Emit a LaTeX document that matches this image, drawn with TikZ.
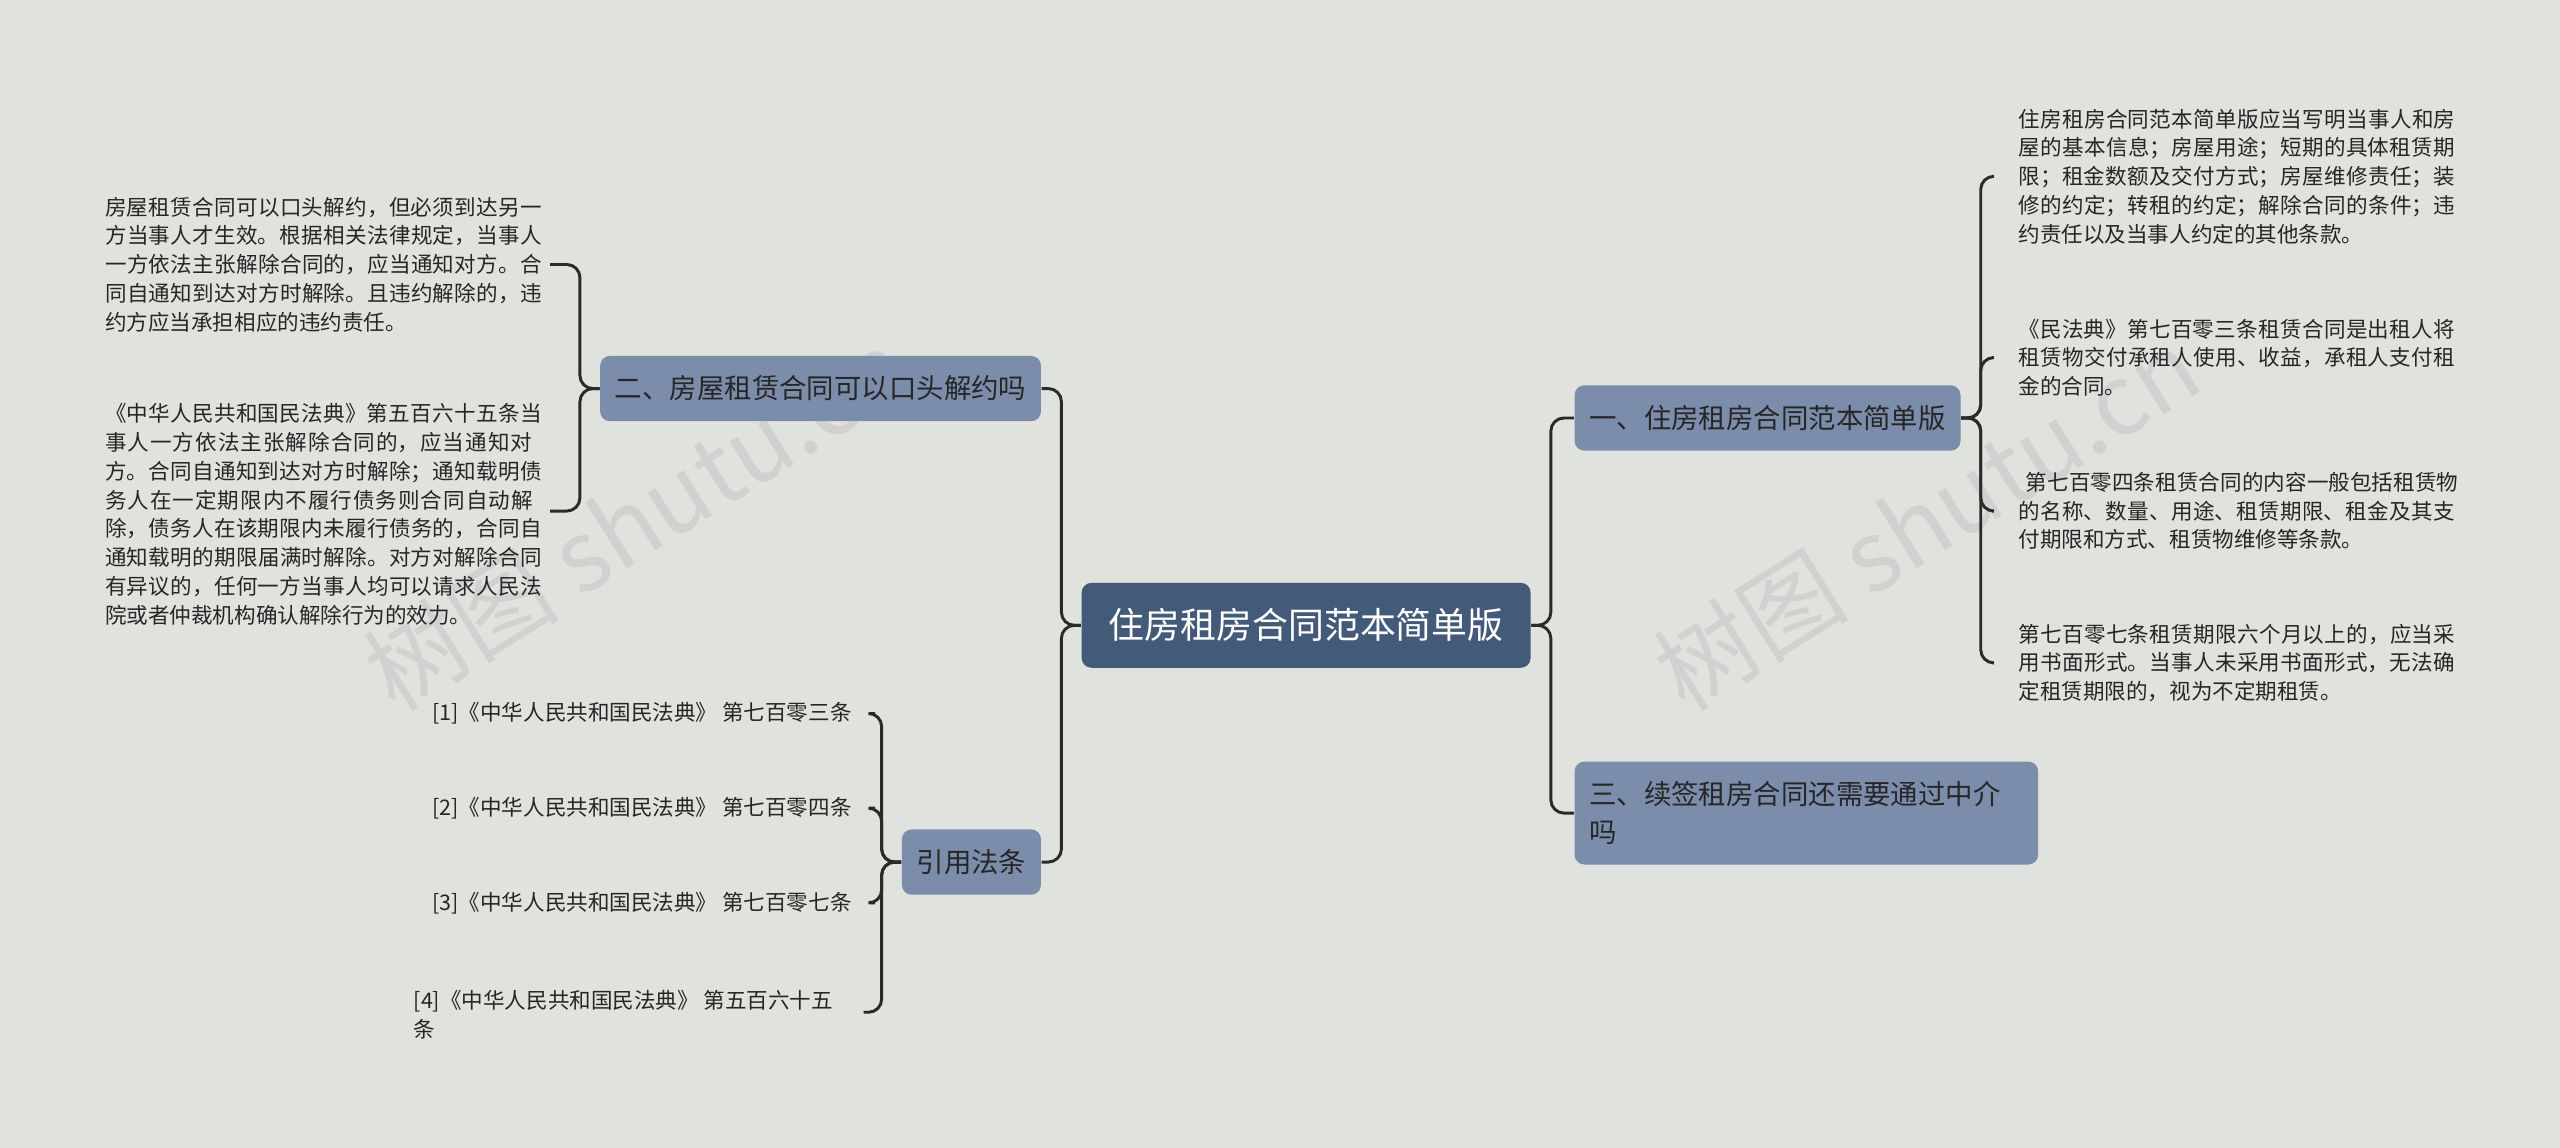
\documentclass[tikz,border=0pt]{standalone}
\usepackage{fontspec}
\setmainfont{Noto Sans CJK SC}
\XeTeXlinebreaklocale "zh"
\XeTeXlinebreakskip=0pt plus 1pt
\usetikzlibrary{positioning}
\definecolor{bgc}{HTML}{E0E2DD}
\definecolor{rootc}{HTML}{435A78}
\definecolor{boxc}{HTML}{7B8DAB}
\definecolor{linec}{HTML}{2A2A2A}
\tikzset{
  rootbox/.style={fill=rootc,rounded corners=3pt,text=white,font=\fontsize{11}{13}\selectfont,minimum width=137.5pt,minimum height=26pt,inner sep=0pt},
  topicbox/.style={fill=boxc,rounded corners=3pt,text=black!85,font=\fontsize{8.4}{11.5}\selectfont,minimum height=20pt,inner xsep=4.5pt,inner ysep=4pt,align=left},
  leaf/.style={font=\fontsize{6.6}{8.8}\selectfont,text=black!85,inner sep=0pt,align=left,text width=135pt},
  cite/.style={font=\fontsize{6.6}{8.8}\selectfont,text=black!85,inner sep=0pt,align=left},
  link/.style={draw=linec,line width=0.9pt,rounded corners=4pt},
  wmark/.style={text=black!18,font=\fontsize{30}{30}\selectfont,rotate=32}
}
\begin{document}
\begin{tikzpicture}[x=0.5pt,y=-0.5pt]
\fill[bgc] (0,0) rectangle (1568,703);
\useasboundingbox (0,0) rectangle (1568,703);
% watermarks
\node[wmark] (wm1) at (390,318) {树图 shutu.cn};
\node[wmark] (wm2) at (1180,318) {树图 shutu.cn};
% root and topics
\node[rootbox] (root) at (800,383) {住房租房合同范本简单版};
\node[topicbox,anchor=west] (t1) at (964,256) {一、住房租房合同范本简单版};
\node[topicbox,anchor=west,text width=133pt,minimum height=31.5pt] (t3) at (964,498) {三、续签租房合同还需要通过中介\\吗};
\node[topicbox,anchor=east] (t2) at (638,238) {二、房屋租赁合同可以口头解约吗};
\node[topicbox,anchor=east] (t4) at (638,528) {引用法条};
\draw[link] (root.east) -- ++(12,0) |- (t1.west);
\draw[link] (root.east) -- ++(12,0) |- (t3.west);
\draw[link] (root.west) -- ++(-12,0) |- (t2.east);
\draw[link] (root.west) -- ++(-12,0) |- (t4.east);
% leaves of topic one
\node[leaf,anchor=west] (a1) at (1236,108) {住房租房合同范本简单版应当写明当事人和房屋的基本信息；房屋用途；短期的具体租赁期限；租金数额及交付方式；房屋维修责任；装修的约定；转租的约定；解除合同的条件；违约责任以及当事人约定的其他条款。};
\node[leaf,anchor=west] (a2) at (1236,219) {《民法典》第七百零三条租赁合同是出租人将租赁物交付承租人使用、收益，承租人支付租金的合同。};
\node[leaf,anchor=west] (a3) at (1236,313) {\ 第七百零四条租赁合同的内容一般包括租赁物的名称、数量、用途、租赁期限、租金及其支付期限和方式、租赁物维修等条款。};
\node[leaf,anchor=west] (a4) at (1236,406) {第七百零七条租赁期限六个月以上的，应当采用书面形式。当事人未采用书面形式，无法确定租赁期限的，视为不定期租赁。};
\foreach \n in {a1,a2,a3,a4}
  \draw[link] (t1.east) -- ++(12,0) |- ([xshift=-8]\n.west);
% leaves of topic two
\node[leaf,anchor=west] (b1) at (64,162) {房屋租赁合同可以口头解约，但必须到达另一方当事人才生效。根据相关法律规定，当事人一方依法主张解除合同的，应当通知对方。合同自通知到达对方时解除。且违约解除的，违约方应当承担相应的违约责任。};
\node[leaf,anchor=west] (b2) at (64,315) {《中华人民共和国民法典》第五百六十五条当事人一方依法主张解除合同的，应当通知对方。合同自通知到达对方时解除；通知载明债务人在一定期限内不履行债务则合同自动解除，债务人在该期限内未履行债务的，合同自通知载明的期限届满时解除。对方对解除合同有异议的，任何一方当事人均可以请求人民法院或者仲裁机构确认解除行为的效力。};
\coordinate (b1e) at (337,162);
\coordinate (b2e) at (337,313);
\foreach \n in {b1e,b2e}
  \draw[link] (t2.west) -- ++(-12,0) |- (\n);
% leaves of citations
\node[cite,anchor=east] (c1) at (522,437) {[1]《中华人民共和国民法典》 第七百零三条};
\node[cite,anchor=east] (c2) at (522,495) {[2]《中华人民共和国民法典》 第七百零四条};
\node[cite,anchor=east] (c3) at (522,553) {[3]《中华人民共和国民法典》 第七百零七条};
\node[cite,anchor=north west] (c4) at (253,606) {[4]《中华人民共和国民法典》 第五百六十五\\条};
\coordinate (c4e) at (529,620);
\foreach \n in {c1,c2,c3}
  \draw[link] (t4.west) -- ++(-12,0) |- ([xshift=7]\n.east);
\draw[link] (t4.west) -- ++(-12,0) |- (c4e);
\end{tikzpicture}
\end{document}
